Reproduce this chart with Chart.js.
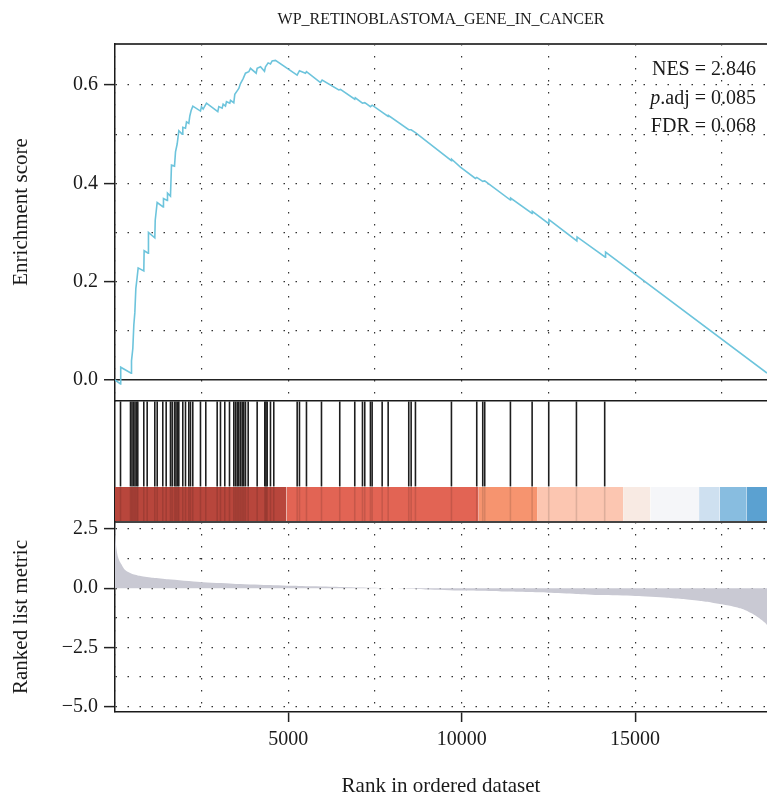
<!DOCTYPE html>
<html>
<head>
<meta charset="utf-8">
<script src="https://cdn.jsdelivr.net/npm/chart.js@4.4.0/dist/chart.umd.min.js"></script>
<style>
  body { margin: 0; background: #fff; }
  #wrap { position: relative; width: 767px; height: 797px; background: #fff; }
  #wrap canvas { position: absolute; left: 0; }
</style>
</head>
<body>
<div id="wrap">
  <canvas id="es" width="767" height="402" style="top:0"></canvas>
  <canvas id="hits" width="767" height="121" style="top:401px"></canvas>
  <canvas id="metric" width="767" height="277" style="top:520px"></canvas>
</div>
<script>
// values
const geneSet = 'WP_RETINOBLASTOMA_GENE_IN_CANCER'
const statLines = ['NES = 2.846', 'p.adj = 0.085', 'FDR = 0.068']
const xMax = 18804

// running enrichment score
const esRank = [0, 159, 165, 466, 476, 514, 543, 572, 601, 639, 668, 831, 840, 956, 965, 1148, 1160, 1216,
  1389, 1398, 1505, 1514, 1600, 1629, 1716, 1745, 1793, 1841, 1937, 1956, 2033, 2062, 2129, 2158, 2196, 2245,
  2465, 2494, 2542, 2638, 2965, 2994, 3090, 3119, 3186, 3215, 3311, 3331, 3426, 3455, 3523, 3571, 3619, 3696,
  3763, 3859, 3907, 4071, 4100, 4196, 4311, 4340, 4417, 4484, 4532, 4628, 5253, 5320, 5493, 5522, 5926, 5974,
  6454, 6502, 6915, 6930, 7137, 7203, 7367, 7416, 7878, 7890, 8472, 8541, 8665, 9703, 9710, 9962, 10395, 10433,
  10606, 10663, 11404, 11410, 12030, 12036, 12509, 12515, 13320, 13327, 14140, 14148, 18804]
const esScore = [0, -0.008, 0.026, 0.014, 0.039, 0.064, 0.112, 0.137, 0.186, 0.209, 0.228, 0.222, 0.263, 0.258, 0.300, 0.289, 0.325, 0.361,
  0.352, 0.369, 0.365, 0.380, 0.374, 0.437, 0.435, 0.464, 0.480, 0.507, 0.500, 0.514, 0.512, 0.525, 0.522, 0.537, 0.548, 0.557,
  0.547, 0.556, 0.551, 0.563, 0.546, 0.556, 0.553, 0.561, 0.557, 0.566, 0.563, 0.569, 0.564, 0.581, 0.588, 0.593, 0.603, 0.613,
  0.624, 0.627, 0.634, 0.624, 0.634, 0.637, 0.628, 0.637, 0.645, 0.643, 0.649, 0.650, 0.620, 0.629, 0.624, 0.627, 0.605, 0.610,
  0.590, 0.591, 0.571, 0.574, 0.563, 0.564, 0.556, 0.559, 0.536, 0.538, 0.509, 0.509, 0.503, 0.446, 0.449, 0.433, 0.410, 0.412,
  0.404, 0.405, 0.366, 0.370, 0.339, 0.343, 0.318, 0.326, 0.283, 0.291, 0.250, 0.260, 0.014]

// gene set hits (barcode)
const hitRank = [159, 447, 490, 533, 577, 620, 657, 830, 928, 1148, 1217, 1378, 1476, 1600, 1649, 1716, 1759, 1802,
  1840, 1955, 2033, 2128, 2177, 2243, 2465, 2618, 2947, 3042, 3166, 3302, 3426, 3475, 3524, 3570, 3619, 3668,
  3714, 3763, 3841, 4100, 4320, 4354, 4389, 4484, 4579, 5254, 5320, 5522, 5955, 6482, 6915, 7137, 7203, 7367,
  7416, 7705, 7878, 8472, 8541, 8665, 9703, 10433, 10606, 10663, 11404, 12030, 12509, 13308, 14123]

// ranked list metric
const metricRank = [0, 15, 40, 80, 130, 180, 260, 350, 500, 740, 1100, 1530, 2460, 3400, 4380, 5300, 6300, 7100,
  7900, 9000, 10000, 11200, 12500, 13300, 14000, 15000, 15925, 16400, 16885, 17200, 17510, 17800, 18040, 18200,
  18360, 18500, 18650, 18750, 18804]
const metricValue = [2.9, 2.2, 1.7, 1.35, 1.15, 1.02, 0.82, 0.70, 0.60, 0.515, 0.44, 0.375, 0.26, 0.19, 0.135, 0.095, 0.065, 0.03,
  0.0, -0.05, -0.1, -0.14, -0.19, -0.24, -0.29, -0.33, -0.40, -0.46, -0.54, -0.60, -0.68, -0.76, -0.85, -0.94,
  -1.06, -1.18, -1.34, -1.46, -1.55]

// colour band under the barcode
const bandEdges = [0, 4945, 10490, 12174, 14654, 15441, 16845, 17440, 18210, 18804]
const bandColors = ['#B8463C', '#E26454', '#F6946F', '#FCC6B1', '#F8EAE3', '#F5F6F9', '#CEE0F0', '#88BDE0', '#5BA1D1']

// ticks / grid lines
const rankGrid = [0, 2500, 5000, 7500, 10000, 12500, 15000, 17500]
const rankTicks = [5000, 10000, 15000]
const esGrid = [0, 0.1, 0.2, 0.3, 0.4, 0.5, 0.6]
const esTicks = [0, 0.2, 0.4, 0.6]
const metricGrid = [-5, -3.75, -2.5, -1.25, 0, 1.25, 2.5]
const metricTicks = [-5, -2.5, 0, 2.5]

const serif = '"Liberation Serif", "DejaVu Serif", serif'
const ink = '#1a1a1a'
const dotted = [1.5, 10.5]
const near = (v, list) => list.some(t => Math.abs(t - v) < 1e-6)
const setTicks = list => s => { s.ticks = list.map(v => ({value: v})) }
const yFit = s => { s.width = 115; s.paddingTop = 0; s.paddingBottom = 0 }

// NES / p.adj / FDR block in the top right corner
const statsText = {
  id: 'statsText',
  afterDraw(chart) {
    const {ctx, chartArea} = chart
    const xr = chartArea.right - 11
    ctx.save()
    ctx.fillStyle = ink
    ctx.textAlign = 'right'
    ctx.textBaseline = 'middle'
    statLines.forEach((line, i) => {
      const y = chartArea.top + 26 + i * 28.5
      ctx.font = '20px ' + serif
      if (line.startsWith('p.')) {
        const rest = line.slice(1)
        ctx.fillText(rest, xr, y)
        const w = ctx.measureText(rest).width
        ctx.font = 'italic 20px ' + serif
        ctx.fillText('p', xr - w, y)
      } else {
        ctx.fillText(line, xr, y)
      }
    })
    ctx.restore()
  }
}

const rankAxis = (extra) => Object.assign({
  type: 'linear', min: 0, max: xMax,
  afterBuildTicks: setTicks(rankGrid),
  ticks: { display: false },
  grid: { color: '#333', lineWidth: 1.2, drawTicks: false },
  border: { display: true, color: ink, width: 1.5, dash: ctx => ctx.tick ? dotted : [] }
}, extra)

const topBorder = {
  type: 'linear', position: 'top', min: 0, max: xMax,
  grid: { display: false }, ticks: { display: false },
  border: { display: true, color: '#444', width: 2 },
  afterFit: s => { s.height = 0 }
}

// ---- enrichment score panel
new Chart(document.getElementById('es'), {
  type: 'line',
  data: {
    datasets: [{
      data: esRank.map((r, i) => ({x: r, y: esScore[i]})),
      borderColor: '#6DC4DC', borderWidth: 1.6, pointRadius: 0, tension: 0
    }]
  },
  options: {
    responsive: false, animation: false,
    layout: {autoPadding: false},
    plugins: {
      legend: {display: false}, tooltip: {enabled: false},
      title: {
        display: true, text: geneSet, fullSize: false, color: ink,
        font: {family: serif, size: 16, weight: 'normal'},
        padding: {top: 10.4, bottom: 14.4}
      }
    },
    scales: {
      x: rankAxis({ afterFit: s => { s.height = 1 } }),
      x2: topBorder,
      y: {
        min: -0.0427, max: 0.6834,
        afterFit: yFit,
        afterBuildTicks: setTicks(esGrid),
        ticks: {
          color: ink, padding: 6,
          font: {family: serif, size: 20},
          callback: v => near(v, esTicks) ? v.toFixed(1) : ''
        },
        grid: {
          color: ctx => (ctx.tick && ctx.tick.value === 0) ? '#222' : '#333',
          lineWidth: ctx => (ctx.tick && ctx.tick.value === 0) ? 1.5 : 1.2,
          tickLength: 11, tickWidth: 1.5,
          tickColor: ctx => (ctx.tick && near(ctx.tick.value, esTicks)) ? '#222' : 'rgba(0,0,0,0)'
        },
        border: {
          display: true, color: ink, width: 1.5,
          dash: ctx => (ctx.tick && ctx.tick.value !== 0) ? dotted : []
        },
        title: {
          display: true, text: '    Enrichment score', color: ink,
          font: {family: serif, size: 21}, padding: {top: 8.6, bottom: 0}
        }
      }
    }
  },
  plugins: [statsText]
})

// ---- barcode + colour band panel
const bandSets = bandColors.map((c, i) => ({
  type: 'line',
  data: [{x: bandEdges[i], y: 0.289}, {x: bandEdges[i + 1], y: 0.289}],
  backgroundColor: c, borderWidth: 0, pointRadius: 0, fill: 'origin', order: 2
}))

new Chart(document.getElementById('hits'), {
  type: 'scatter',
  data: {
    datasets: [
      {
        data: hitRank.map(r => ({x: r, y: 0.645})),
        pointStyle: 'line', rotation: 90, radius: 42.5,
        borderColor: '#1e1e1e', borderWidth: 1.6, order: 3
      },
      ...bandSets,
      {
        data: hitRank.map(r => ({x: r, y: 0.145})),
        pointStyle: 'line', rotation: 90, radius: 17.5,
        borderColor: 'rgba(0,0,0,0.12)', borderWidth: 1.6, order: 1
      }
    ]
  },
  options: {
    responsive: false, animation: false,
    layout: {autoPadding: false},
    plugins: {legend: {display: false}, tooltip: {enabled: false}},
    scales: {
      x: {type: 'linear', min: 0, max: xMax, display: false},
      y: {
        min: 0, max: 1,
        afterFit: yFit,
        ticks: {display: false}, grid: {display: false},
        border: {display: true, color: ink, width: 1.5}
      }
    }
  }
})

// ---- ranked list metric panel
new Chart(document.getElementById('metric'), {
  type: 'line',
  data: {
    datasets: [{
      data: metricRank.map((r, i) => ({x: r, y: metricValue[i]})),
      backgroundColor: '#C9C9D3', borderWidth: 0, pointRadius: 0, tension: 0.2, fill: 'origin'
    }]
  },
  options: {
    responsive: false, animation: false,
    layout: {padding: {top: 2}, autoPadding: false},
    plugins: {legend: {display: false}, tooltip: {enabled: false}},
    scales: {
      x: rankAxis({
        afterFit: s => { s.height = 85; s.paddingLeft = 0; s.paddingRight = 0 },
        ticks: {
          color: ink, padding: 6, autoSkip: false, maxRotation: 0,
          font: {family: serif, size: 20},
          callback: v => near(v, rankTicks) ? String(v) : ''
        },
        grid: {
          color: '#333', lineWidth: 1.2, tickLength: 10, tickWidth: 1.5,
          tickColor: ctx => (ctx.tick && near(ctx.tick.value, rankTicks)) ? '#222' : 'rgba(0,0,0,0)'
        },
        title: {
          display: true, text: 'Rank in ordered dataset', color: ink,
          font: {family: serif, size: 21, lineHeight: 1}, padding: {top: 0, bottom: 0}
        }
      }),
      x2: topBorder,
      y: {
        min: -5.226, max: 2.794,
        afterFit: yFit,
        afterBuildTicks: setTicks(metricGrid),
        ticks: {
          color: ink, padding: 6,
          font: {family: serif, size: 20},
          callback: v => near(v, metricTicks) ? (v < 0 ? '\u2212' + (-v).toFixed(1) : v.toFixed(1)) : ''
        },
        grid: {
          color: '#333', lineWidth: 1.2, tickLength: 11, tickWidth: 1.5,
          tickColor: ctx => (ctx.tick && near(ctx.tick.value, metricTicks)) ? '#222' : 'rgba(0,0,0,0)'
        },
        border: {display: true, color: ink, width: 1.5, dash: ctx => ctx.tick ? dotted : []},
        title: {
          display: true, text: 'Ranked list metric', color: ink,
          font: {family: serif, size: 21}, padding: {top: 8.6, bottom: 0}
        }
      }
    }
  }
})
</script>
</body>
</html>
